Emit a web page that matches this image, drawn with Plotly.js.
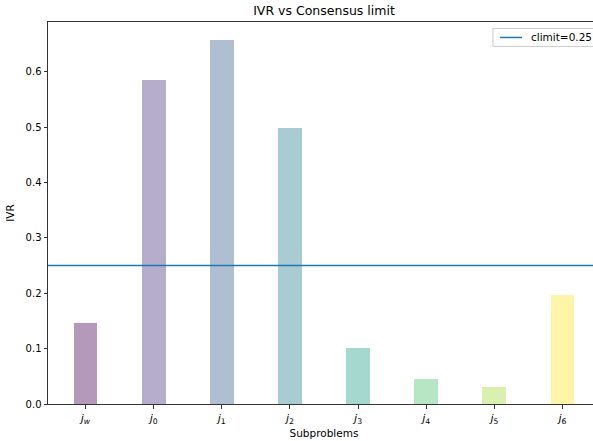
<!DOCTYPE html>
<html>
<head>
<meta charset="utf-8">
<script src="https://cdn.plot.ly/plotly-3.0.1.min.js"></script>
<style>
html,body{margin:0;padding:0;background:#fff;overflow:hidden}
#wrap{width:593px;height:441px;overflow:hidden;position:relative}
#chart{width:600px;height:441px;position:absolute;left:0;top:0}
</style>
</head>
<body>
<div id="wrap"><div id="chart"></div></div>
<script>
const categories = ["jw", "j0", "j1", "j2", "j3", "j4", "j5", "j6"];
const tickLabels = ["<i>j</i><sub><i>w</i></sub>", "<i>j</i><sub>0</sub>", "<i>j</i><sub>1</sub>", "<i>j</i><sub>2</sub>",
                    "<i>j</i><sub>3</sub>", "<i>j</i><sub>4</sub>", "<i>j</i><sub>5</sub>", "<i>j</i><sub>6</sub>"];
const ivrValues = [0.146, 0.586, 0.658, 0.499, 0.102, 0.046, 0.031, 0.196];
const barColors = ["#440154", "#46327e", "#365c8d", "#277f8e", "#1fa187", "#4ac16d", "#a0da39", "#fde725"];
const climit = 0.25;
const legendLabel = "climit=" + climit;

const font = "DejaVu Sans, Liberation Sans, sans-serif";
const lineColor = "#1f77b4";

const traces = [
  {
    type: "bar",
    x: categories,
    y: ivrValues,
    width: 0.35,
    marker: {color: barColors, opacity: 0.4, line: {width: 0}},
    showlegend: false,
    hoverinfo: "x+y"
  }
];

// The original figure's axes extend slightly beyond the 593px window (right spine cropped),
// so the plot is laid out 600px wide inside a 593px clipping container.
const layout = {
  width: 600,
  height: 441,
  margin: {l: 48, r: 0, t: 22, b: 36.5, pad: 0},
  paper_bgcolor: "#ffffff",
  plot_bgcolor: "#ffffff",
  font: {family: font, size: 10, color: "#000"},
  title: {text: "IVR vs Consensus limit", font: {family: font, size: 12.5, color: "#000"}, x: 0.5, xref: "paper", xanchor: "center", y: 1, yref: "container", yanchor: "top", pad: {t: 6}},
  bargap: 0,
  showlegend: false,
  xaxis: {
    type: "category",
    range: [-0.55, 7.55],
    tickvals: categories,
    ticktext: tickLabels,
    ticks: "outside", ticklen: 3.5, tickwidth: 0.8, tickcolor: "#000",
    showline: true, linecolor: "#333", linewidth: 1, mirror: true,
    showgrid: false, zeroline: false,
    tickfont: {family: font, size: 11, color: "#000"},
    title: {text: "Subproblems", font: {family: font, size: 10.5, color: "#000"}, standoff: 4}
  },
  yaxis: {
    range: [0, 0.69],
    tickvals: [0, 0.1, 0.2, 0.3, 0.4, 0.5, 0.6],
    tickformat: ".1f",
    ticks: "outside", ticklen: 3.5, tickwidth: 0.8, tickcolor: "#000",
    showline: true, linecolor: "#333", linewidth: 1, mirror: false,
    showgrid: false, zeroline: false,
    tickfont: {family: font, size: 10, color: "#000"},
    title: {text: "IVR", font: {family: font, size: 10.5, color: "#000"}, standoff: 8}
  },
  shapes: [
    {type: "line", xref: "paper", x0: 0, x1: 1, yref: "y", y0: climit, y1: climit, line: {color: lineColor, width: 1.5}},
    {type: "rect", xref: "paper", yref: "paper", x0: 0.806, x1: 1.0, y0: 0.936, y1: 0.983,
     line: {color: "#cccccc", width: 1}, fillcolor: "rgba(255,255,255,0.8)"},
    {type: "line", xref: "paper", yref: "paper", x0: 0.819, x1: 0.8587, y0: 0.9595, y1: 0.9595,
     line: {color: lineColor, width: 1.5}}
  ],
  annotations: [
    {text: legendLabel, xref: "paper", yref: "paper", x: 0.871, y: 0.9595, xanchor: "left", yanchor: "middle",
     showarrow: false, font: {family: font, size: 10.5, color: "#000"}}
  ]
};

Plotly.newPlot("chart", traces, layout, {displayModeBar: false, staticPlot: true});
</script>
</body>
</html>
